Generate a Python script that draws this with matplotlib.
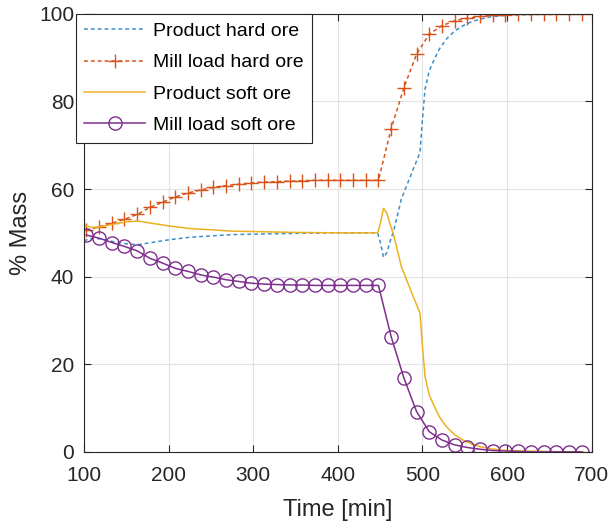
import numpy as np
from matplotlib import pyplot as plt

plt.rcParams['font.family'] = ['Liberation Sans', 'DejaVu Sans']

# sampled mill load (markers)
t_mill = [103, 118, 133, 148, 163, 178, 193, 208, 223, 238, 253, 268, 283, 298, 313, 328,
          343, 358, 373, 388, 403, 418, 433, 448, 463, 478, 493, 508, 523, 538, 553, 568,
          583, 598, 613, 628, 643, 658, 673, 688]
mill_soft = [49.5, 48.8, 47.8, 46.9, 45.9, 44.2, 43.1, 41.9, 41.2, 40.4, 39.9, 39.3, 38.9, 38.5, 38.3, 38.2,
             38.1, 38.1, 38.0, 38.0, 38.0, 38.0, 38.0, 38.0, 26.3, 16.9, 9.2, 4.6, 2.7, 1.6, 1.0, 0.6,
             0.3, 0.2, 0.1, 0.0, 0.0, 0.0, 0.0, 0.0]
mill_hard = [50.6, 51.4, 52.2, 53.1, 54.2, 55.8, 57.0, 58.2, 59.1, 59.8, 60.4, 60.8, 61.1, 61.4, 61.6, 61.7,
             61.8, 61.9, 62.0, 62.0, 62.0, 62.0, 62.0, 62.0, 73.8, 83.1, 90.8, 95.4, 97.3, 98.4, 99.0, 99.4,
             99.7, 99.8, 99.9, 100.0, 100.0, 100.0, 100.0, 100.0]

# product composition (continuous)
t_prod = [100, 110, 120, 130, 140, 150, 164, 180, 200, 225, 250, 275, 300, 350, 400, 447, 450, 454,
          458, 462, 466, 475, 489, 497, 500, 503, 508, 513, 520, 528, 538, 548, 558, 568, 580, 600,
          650, 690]
prod_soft = [51.8, 51.2, 51.4, 51.8, 52.2, 52.5, 52.7, 52.2, 51.6, 51.0, 50.7, 50.4, 50.3, 50.1, 50.0, 50.0,
             52.0, 55.6, 54.5, 51.8, 49.5, 42.3, 35.5, 31.7, 24.0, 17.2, 13.0, 10.8, 8.0, 5.8, 3.9, 2.7,
             1.8, 1.2, 0.7, 0.3, 0.05, 0.0]
prod_hard = [48.2, 48.8, 48.6, 48.2, 47.8, 47.5, 47.3, 47.8, 48.4, 49.0, 49.3, 49.6, 49.7, 49.9, 50.0, 50.0,
             48.0, 44.4, 45.5, 48.2, 50.5, 57.7, 64.5, 68.3, 76.0, 82.8, 87.0, 89.2, 92.0, 94.2, 96.1, 97.3,
             98.2, 98.8, 99.3, 99.7, 99.95, 100.0]

c_blue = '#3b8fc8'
c_orange = '#D95319'
c_yellow = '#EDB120'
c_purple = '#7E2F8E'
c_text = '#262626'

fig = plt.figure(figsize=(6.12, 5.23), dpi=100)
ax = fig.add_axes([0.137, 0.136, 0.830, 0.8375])

ax.plot(t_prod, prod_hard, color=c_blue, linestyle=(0, (2.5, 2)), linewidth=1.1, label='Product hard ore')
ax.plot(t_mill, mill_hard, color=c_orange, linestyle=(0, (2.5, 2)), linewidth=1.1,
        marker='+', markersize=10, markeredgewidth=1.0, label='Mill load hard ore')
ax.plot(t_prod, prod_soft, color=c_yellow, linewidth=1.1, label='Product soft ore')
ax.plot(t_mill, mill_soft, color=c_purple, linewidth=1.1, marker='o', markersize=9.5,
        markerfacecolor='none', markeredgewidth=1.0, label='Mill load soft ore')

ax.set_xlim(100, 700)
ax.set_ylim(0, 100)
ax.set_xticks([100, 200, 300, 400, 500, 600, 700])
ax.set_yticks([0, 20, 40, 60, 80, 100])
ax.grid(True, color='#e3e3e3', linewidth=0.8)
ax.tick_params(direction='in', length=5, labelsize=15, top=True, right=True,
               labeltop=False, labelright=False, colors=c_text)
ax.tick_params(axis='x', pad=10)
ax.tick_params(axis='y', pad=7)
for s in ax.spines.values():
    s.set_color(c_text)
    s.set_linewidth(0.8)
ax.set_xlabel('Time [min]', fontsize=17, color=c_text)
ax.set_ylabel('% Mass', fontsize=17, color=c_text)
ax.xaxis.set_label_coords(0.5, -0.108)
ax.yaxis.set_label_coords(-0.102, 0.5)

leg = ax.legend(loc='upper left', bbox_to_anchor=(-0.016, 1.0), borderaxespad=0,
                fontsize=14, fancybox=False, framealpha=1, edgecolor=c_text,
                handlelength=3.1, handletextpad=0.4, labelspacing=0.7, borderpad=0.45)
leg.get_frame().set_linewidth(0.8)

fig.savefig('out.png', dpi=100)
